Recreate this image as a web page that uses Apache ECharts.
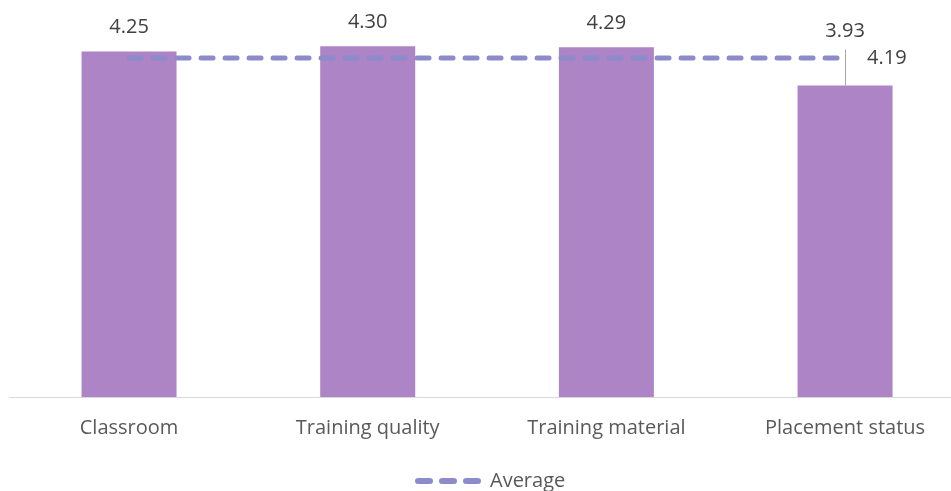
<!DOCTYPE html>
<html>
<head>
<meta charset="utf-8">
<script src="https://cdn.jsdelivr.net/npm/echarts@6/dist/echarts.min.js"></script>
<style>
  html, body { margin: 0; padding: 0; background: #fff; overflow: hidden; }
  /* the plot area runs a little past the right edge of the window */
  #chart { width: 965px; height: 491px; }
</style>
</head>
<body>
<div id="chart"></div>
<script>
const categories = ['Classroom', 'Training quality', 'Training material', 'Placement status'];
const scores = [4.25, 4.30, 4.29, 3.93];
const average = [4.19, 4.19, 4.19, 4.19];
const leaderTop = 4.27;

const myChart = echarts.init(document.getElementById('chart'));
const font = '"Open Sans", "Liberation Sans", sans-serif';

// three rounded dashes for the legend icon
const dashIcon = 'path://M3,0h12a3,3 0 0 1 0,6h-12a3,3 0 0 1 0,-6z'
  + 'M27,0h12a3,3 0 0 1 0,6h-12a3,3 0 0 1 0,-6z'
  + 'M51,0h12a3,3 0 0 1 0,6h-12a3,3 0 0 1 0,-6z';

const option = {
  animation: false,
  grid: { left: 9.7, right: 0.6, top: 25, bottom: 94 },
  legend: {
    top: 466,
    left: 410,
    itemWidth: 66,
    itemHeight: 6,
    itemGap: 10,
    textStyle: { fontFamily: font, fontSize: 20, color: '#595959', padding: [0, 0, 0, 4] },
    data: [{ name: 'Average', icon: dashIcon }],
  },
  xAxis: {
    type: 'category',
    data: categories,
    axisLine: { lineStyle: { color: '#d9d9d9', width: 1 } },
    axisTick: { show: false },
    axisLabel: { margin: 21, fontFamily: font, fontSize: 20, color: '#595959' },
  },
  yAxis: {
    type: 'value',
    min: 1,
    max: 4.5,
    show: false,
    splitLine: { show: false },
  },
  series: [
    {
      type: 'bar',
      name: 'Score',
      barWidth: 95,
      itemStyle: { color: '#ad84c6' },
      data: scores.map((v, i) => (i === 3
        ? { value: v, label: { distance: 44 } }
        : { value: v })),
      label: {
        show: true,
        position: 'top',
        distance: 14,
        formatter: (p) => p.value.toFixed(2),
        fontFamily: font,
        fontSize: 20,
        color: '#404040',
      },
      markLine: {
        symbol: 'none',
        silent: true,
        label: { show: false },
        lineStyle: { color: '#a6a6a6', width: 1, type: 'solid' },
        data: [[
          { coord: [categories[3], scores[3]] },
          { coord: [categories[3], leaderTop] },
        ]],
      },
      z: 1,
    },
    {
      type: 'line',
      name: 'Average',
      data: average,
      symbol: 'none',
      showSymbol: false,
      lineStyle: { color: '#8c8ccc', width: 5, type: [12, 12], cap: 'round' },
      itemStyle: { color: '#8c8ccc' },
      endLabel: {
        show: true,
        formatter: (p) => p.value.toFixed(2),
        distance: 22,
        fontFamily: font,
        fontSize: 20,
        color: '#404040',
      },
      z: 3,
    },
  ],
};

myChart.setOption(option);
</script>
</body>
</html>
